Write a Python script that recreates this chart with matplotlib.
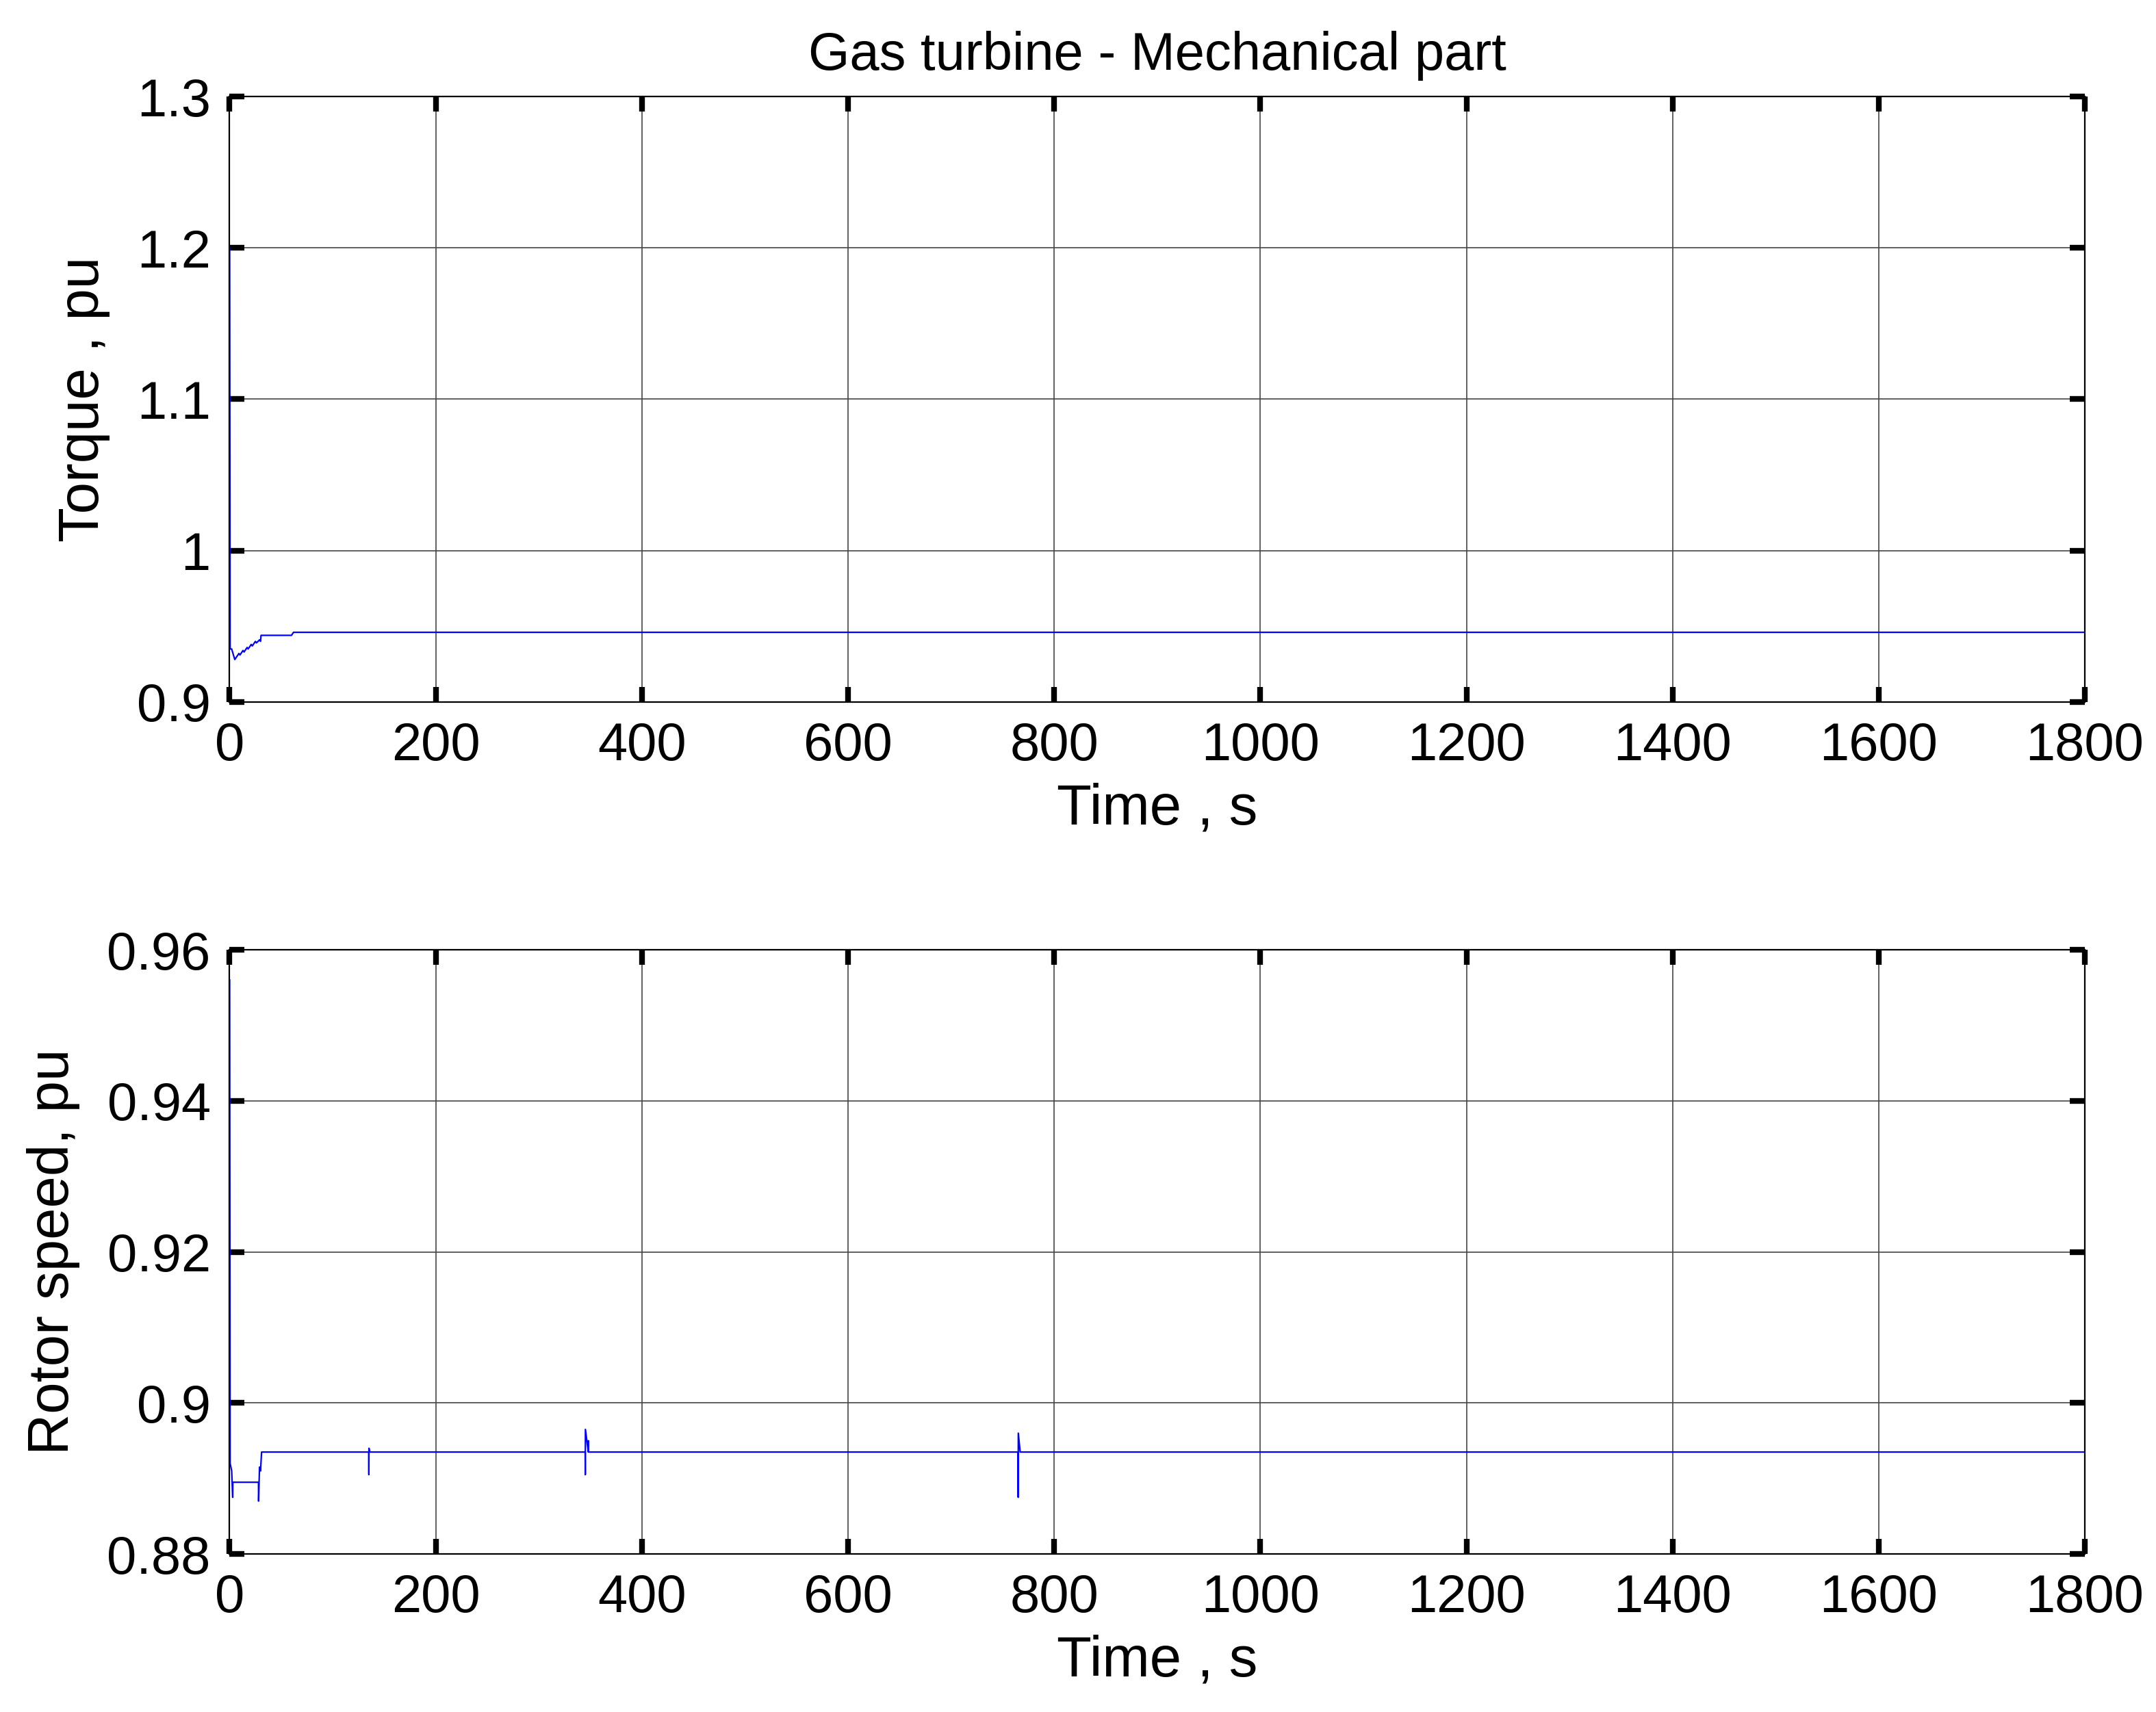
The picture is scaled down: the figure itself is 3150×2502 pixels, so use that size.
import matplotlib
matplotlib.use("Agg")
import matplotlib.pyplot as plt

plt.rcParams['font.family'] = ['Liberation Sans', 'DejaVu Sans']

torque_t = [0, 0.5, 2, 5, 7, 9, 10, 13, 14, 17, 18, 21, 22, 25, 26, 29, 30, 30.5, 60, 62, 1800]
torque_v = [1.2, 0.935, 0.935, 0.928, 0.93, 0.932, 0.931, 0.934, 0.933, 0.936, 0.935, 0.938, 0.937, 0.940, 0.939, 0.941, 0.940, 0.944, 0.944, 0.946, 0.946]

speed_t = [0, 0.5, 2, 3, 3.1, 28, 28.1, 29, 30, 31, 32, 135, 135.1, 135.2, 136, 345, 345.1, 345.2, 348, 348.1, 348.2, 350,
           765, 765.1, 765.2, 767, 1800]
speed_v = [0.956, 0.892, 0.891, 0.8875, 0.8895, 0.8895, 0.887, 0.8915, 0.891, 0.8935, 0.8935, 0.8935, 0.8905, 0.894, 0.8935,
           0.8935, 0.8905, 0.8965, 0.8935, 0.895, 0.8935, 0.8935, 0.8935, 0.8875, 0.896, 0.8935, 0.8935]

fig = plt.figure(figsize=(15.75, 12.51), dpi=200)
ax1 = fig.add_axes([0.1065, 0.590, 0.8605, 0.3536])
ax2 = fig.add_axes([0.1065, 0.0923, 0.8605, 0.3529])

def style(ax, yticks, ylim, ylabels):
    ax.set_xlim(0, 1800)
    ax.set_ylim(*ylim)
    ax.set_xticks(range(0, 1801, 200))
    ax.set_yticks(yticks)
    ax.set_yticklabels(ylabels)
    ax.grid(True, color='#444444', linewidth=0.6)
    ax.tick_params(direction='in', length=8, width=3, labelsize=28, top=True, right=True, pad=10)
    for s in ax.spines.values():
        s.set_linewidth(0.8)
    ax.set_xlabel('Time , s', fontsize=30, labelpad=6)

ax1.plot(torque_t, torque_v, color='blue', linewidth=0.8)
style(ax1, [0.9, 1.0, 1.1, 1.2, 1.3], (0.9, 1.3), ['0.9', '1', '1.1', '1.2', '1.3'])
ax1.set_ylabel('Torque , pu', fontsize=30, labelpad=14)
ax1.set_title('Gas turbine - Mechanical part', fontsize=28, pad=14)

ax2.plot(speed_t, speed_v, color='blue', linewidth=0.8)
style(ax2, [0.88, 0.90, 0.92, 0.94, 0.96], (0.88, 0.96), ['0.88', '0.9', '0.92', '0.94', '0.96'])
ax2.set_ylabel('Rotor speed, pu', fontsize=30, labelpad=14)

fig.savefig('out.png', dpi=200, facecolor='white')
